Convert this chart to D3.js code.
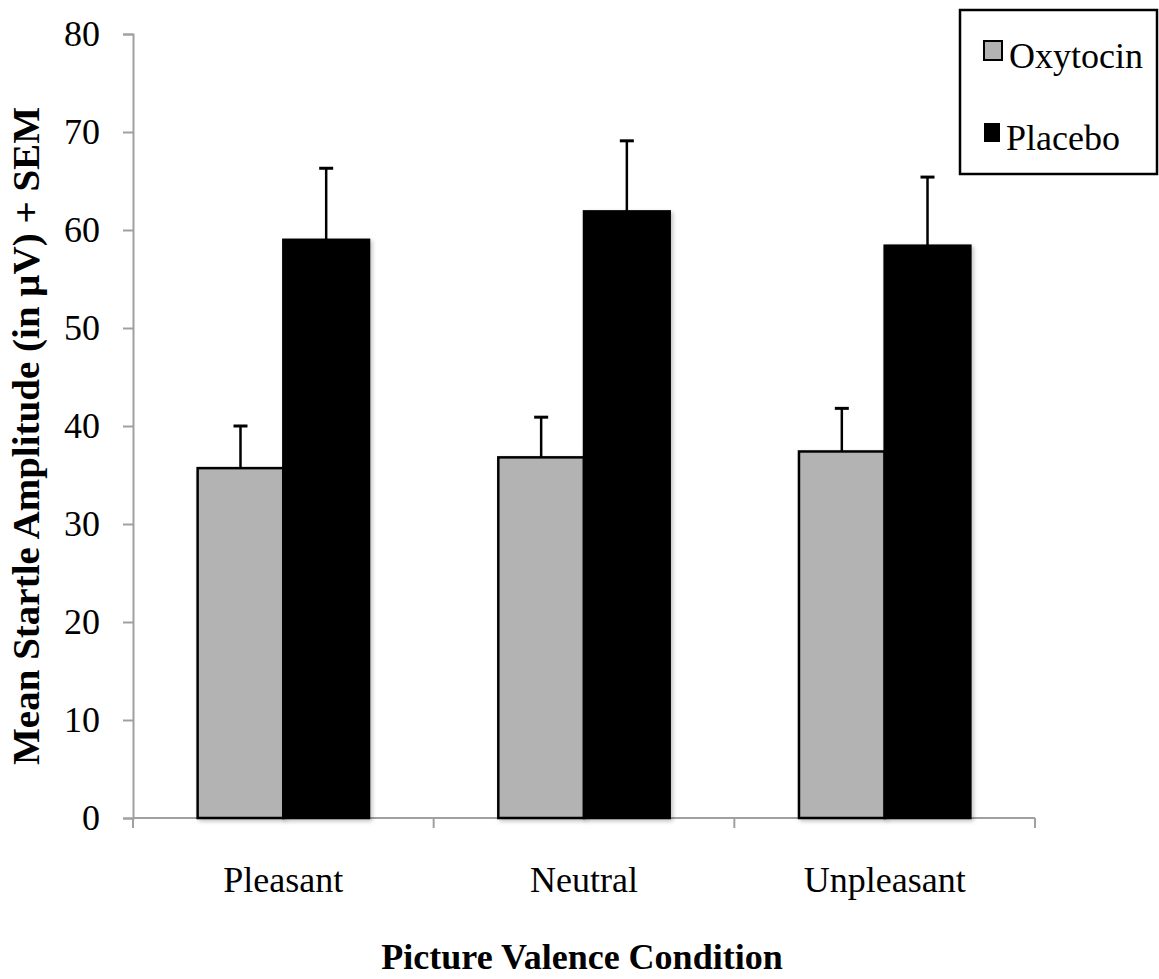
<!DOCTYPE html>
<html>
<head>
<meta charset="utf-8">
<script src="https://cdn.jsdelivr.net/npm/d3@7"></script>
<style>
  html, body { margin: 0; padding: 0; background: #fff; }
  svg text { font-family: "Liberation Serif", "Times New Roman", serif; }
</style>
</head>
<body>
<svg id="chart" width="1159" height="979"></svg>
<script>
// Picture valence conditions on the x axis
const categories = ["Pleasant", "Neutral", "Unpleasant"];
const seriesNames = ["Oxytocin", "Placebo"];
// Mean startle amplitude (µV) per condition
const oxytocinMeans = [35.7, 36.8, 37.4];
const placeboMeans = [59.0, 61.9, 58.4];
// Upper end of the +SEM whisker
const oxytocinUpper = [40.0, 40.9, 41.8];
const placeboUpper = [66.3, 69.1, 65.4];
const yTicks = [0, 10, 20, 30, 40, 50, 60, 70, 80];

const seriesFill = { Oxytocin: "#b3b3b3", Placebo: "#000000" };

const svg = d3.select("#chart");
const margin = { left: 133, right: 124, top: 34, bottom: 161 };
const W = 1159, H = 979;

const x = d3.scaleBand()
  .domain(categories)
  .range([margin.left, W - margin.right])
  .paddingInner(0.43)
  .paddingOuter(0.215);

const xs = d3.scaleBand().domain(seriesNames).range([0, x.bandwidth()]);

const y = d3.scaleLinear().domain([0, 80]).range([H - margin.bottom, margin.top]);

const rows = categories.map((c, i) => ({
  cat: c,
  values: [
    { name: "Oxytocin", mean: oxytocinMeans[i], upper: oxytocinUpper[i] },
    { name: "Placebo", mean: placeboMeans[i], upper: placeboUpper[i] }
  ]
}));

// soft drop shadow under the bars
const defs = svg.append("defs");
const f = defs.append("filter").attr("id", "shadow").attr("x", "-10%").attr("y", "-10%").attr("width", "130%").attr("height", "130%");
f.append("feGaussianBlur").attr("in", "SourceAlpha").attr("stdDeviation", 2);
f.append("feOffset").attr("dx", 2).attr("dy", 2).attr("result", "b");
f.append("feComponentTransfer").append("feFuncA").attr("type", "linear").attr("slope", 0.25);
const fm = f.append("feMerge");
fm.append("feMergeNode");
fm.append("feMergeNode").attr("in", "SourceGraphic");

// y axis
const yAxis = svg.append("g")
  .attr("transform", `translate(${margin.left},0)`)
  .call(d3.axisLeft(y).tickValues(yTicks).tickSize(10).tickPadding(23));
yAxis.select(".domain").attr("stroke", "#a0a0a0").attr("stroke-width", 2);
yAxis.selectAll(".tick line").attr("stroke", "#a0a0a0").attr("stroke-width", 2);
yAxis.selectAll(".tick text").attr("font-size", 36).attr("fill", "#000")
  .style("font-family", "'Liberation Serif', 'Times New Roman', serif");

// x axis with tick marks at category boundaries
const boundaries = [margin.left, ...categories.map(c => x(c) + x.bandwidth() + x.step() * x.paddingInner() / 2)];
const xAxisG = svg.append("g").attr("transform", `translate(0,${y(0)})`);
xAxisG.append("line")
  .attr("x1", margin.left).attr("x2", W - margin.right)
  .attr("stroke", "#a0a0a0").attr("stroke-width", 2);
xAxisG.selectAll("line.tk").data(boundaries).join("line")
  .attr("class", "tk")
  .attr("x1", d => d).attr("x2", d => d).attr("y1", 0).attr("y2", 10)
  .attr("stroke", "#a0a0a0").attr("stroke-width", 2);
xAxisG.selectAll("text").data(categories).join("text")
  .attr("x", d => x(d) + x.bandwidth() / 2)
  .attr("y", 892 - y(0))
  .attr("text-anchor", "middle")
  .attr("font-size", 36)
  .text(d => d);

// bars
const groups = svg.append("g").selectAll("g").data(rows).join("g")
  .attr("transform", d => `translate(${x(d.cat)},0)`);

groups.selectAll("rect").data(d => d.values).join("rect")
  .attr("x", d => xs(d.name))
  .attr("y", d => y(d.mean))
  .attr("width", xs.bandwidth())
  .attr("height", d => y(0) - y(d.mean))
  .attr("fill", d => seriesFill[d.name])
  .attr("stroke", "#000")
  .attr("stroke-width", 2.5)
  .attr("filter", "url(#shadow)");

// +SEM whiskers
const capHalf = 7;
groups.selectAll("line.err").data(d => d.values).join("line")
  .attr("class", "err")
  .attr("x1", d => xs(d.name) + xs.bandwidth() / 2)
  .attr("x2", d => xs(d.name) + xs.bandwidth() / 2)
  .attr("y1", d => y(d.mean))
  .attr("y2", d => y(d.upper))
  .attr("stroke", "#000").attr("stroke-width", 2.5);
groups.selectAll("line.cap").data(d => d.values).join("line")
  .attr("class", "cap")
  .attr("x1", d => xs(d.name) + xs.bandwidth() / 2 - capHalf)
  .attr("x2", d => xs(d.name) + xs.bandwidth() / 2 + capHalf)
  .attr("y1", d => y(d.upper))
  .attr("y2", d => y(d.upper))
  .attr("stroke", "#000").attr("stroke-width", 3);

// axis titles
svg.append("text")
  .attr("transform", `translate(39,436) rotate(-90)`)
  .attr("text-anchor", "middle")
  .attr("font-size", 37)
  .attr("font-weight", "bold")
  .attr("textLength", 658)
  .attr("lengthAdjust", "spacingAndGlyphs")
  .text("Mean Startle Amplitude (in μV) + SEM");

svg.append("text")
  .attr("x", 582)
  .attr("y", 969)
  .attr("text-anchor", "middle")
  .attr("font-size", 36)
  .attr("font-weight", "bold")
  .text("Picture Valence Condition");

// legend
const lg = svg.append("g");
lg.append("rect")
  .attr("x", 960).attr("y", 10).attr("width", 197).attr("height", 164)
  .attr("fill", "#fff").attr("stroke", "#000").attr("stroke-width", 2.5);
const items = lg.selectAll("g").data(seriesNames).join("g")
  .attr("transform", (d, i) => `translate(984,${41 + i * 82})`);
items.append("rect")
  .attr("width", d => d === "Oxytocin" ? 18 : 16)
  .attr("height", 19)
  .attr("fill", d => seriesFill[d])
  .attr("stroke", "#000").attr("stroke-width", d => d === "Oxytocin" ? 2 : 0);
items.append("text")
  .attr("x", d => d === "Oxytocin" ? 25 : 22)
  .attr("y", 27)
  .attr("font-size", 36)
  .text(d => d);
</script>
</body>
</html>
